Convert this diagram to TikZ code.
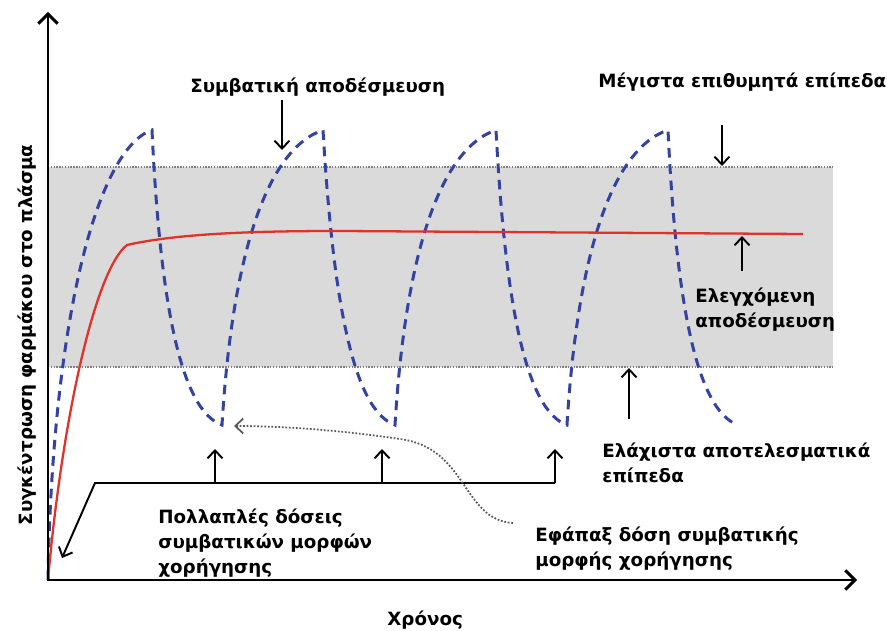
\documentclass[tikz,border=0pt]{standalone}
\usepackage{fontspec}
\setmainfont{DejaVu Sans}
\usetikzlibrary{arrows,arrows.meta,positioning}
\definecolor{doseblue}{RGB}{52,66,162}
\definecolor{ctrlred}{RGB}{224,50,38}
\definecolor{bandgray}{RGB}{218,218,218}

\begin{document}
\begin{tikzpicture}[x=0.02cm,y={(0,-0.02cm)},>={Straight Barb[length=4.5pt,width=8.5pt]},align=left,
    font=\bfseries\fontsize{10.4}{14.4}\selectfont,
    lbl/.style={inner sep=0pt,anchor=base west},
    axis/.style={-{Straight Barb[length=5.5pt,width=11pt]},line width=1.7pt},
    ptr/.style={->,line width=1.1pt},
    conv/.style={doseblue,line width=1.7pt,dash pattern=on 5.5pt off 3.8pt},
    ctrl/.style={ctrlred,line width=1.3pt},
    limit/.style={gray,line width=0.6pt,dash pattern=on 0.8pt off 0.8pt}]
  \useasboundingbox (0,0) rectangle (887,631);
  \coordinate (o) at (48,580);
  \coordinate (y_end) at (48,12);
  \coordinate (x_end) at (857,580);

  % therapeutic window
  \fill[bandgray] (48,167) rectangle (833,367);
  \draw[limit] (48,167) -- (833,167);
  \draw[limit] (48,367) -- (833,367);

  % conventional doses
  \draw[conv] (o) .. controls (52,330) and (95,150) .. (152,130)
    \foreach \p in {323,496,668} {
      .. controls (\p-163,300) and (\p-143,410) .. (\p-101,425)
      .. controls (\p-91,260) and (\p-58,150) .. (\p,130)}
    .. controls (676,300) and (696,410) .. (738,425);

  % controlled release
  \draw[ctrl] (o) .. controls (62,420) and (95,270) .. (127,245)
    .. controls (180,233) and (260,231) .. (340,231) -- (803,234);

  \draw[axis] ([yshift=-0.8pt]o) -- (y_end);
  \draw[axis] ([xshift=-0.8pt]o) -- (x_end);

  \node[lbl] (txt_conv) at (190,93) {Συμβατική αποδέσμευση};
  \node[lbl] (txt_max) at (598,88) {Μέγιστα επιθυμητά επίπεδα};
  \node[lbl] (txt_ctrl) at (695,328) {Ελεγχόμενη\\αποδέσμευση};
  \node[lbl] (txt_min) at (602,483) {Ελάχιστα αποτελεσματικά\\επίπεδα};
  \node[lbl] (txt_multi) at (158,574) {Πολλαπλές δόσεις\\συμβατικών μορφών\\χορήγησης};
  \node[lbl] (txt_single) at (535,567) {Εφάπαξ δόση συμβατικής\\μορφής χορήγησης};
  \node[lbl] (lbl_x) at (387,626) {Χρόνος};
  \node[inner sep=0pt,anchor=base,rotate=90] (lbl_y) at (32,335) {Συγκέντρωση φαρμάκου στο πλάσμα};

  % pointers
  \coordinate (a_conv) at (282,150);
  \coordinate (a_max0) at (722,125);
  \coordinate (a_max) at (722,166);
  \coordinate (a_ctrl0) at (742,271);
  \coordinate (a_ctrl) at (742,236);
  \coordinate (a_min0) at (629,419);
  \coordinate (a_min) at (629,368);
  \draw[ptr] (txt_conv.south -| a_conv) ++(0,3) -- (a_conv);
  \draw[ptr] (a_max0) -- (a_max);
  \draw[ptr] (a_ctrl0) -- (a_ctrl);
  \draw[ptr] (a_min0) -- (a_min);

  % dosing times
  \coordinate (d_0) at (95,483);
  \coordinate (d_tip) at (62,558);
  \draw[ptr] (555,483) -- (d_0) -- (d_tip);
  \foreach \x [count=\n] in {215,382,555} {
    \coordinate (d_\n) at (\x,483);
    \coordinate (d_\n t) at (\x,449);
    \draw[ptr] (d_\n) -- (d_\n t);
  }

  % single dose
  \coordinate (e_s) at (513,523);
  \coordinate (e_t) at (234,426);
  \draw[->,black!65,line width=1pt,dash pattern=on 1pt off 1pt] (e_s)
    .. controls (462,520) and (468,448) .. (400,439)
    .. controls (340,430) and (280,426) .. (e_t);
\end{tikzpicture}
\end{document}
